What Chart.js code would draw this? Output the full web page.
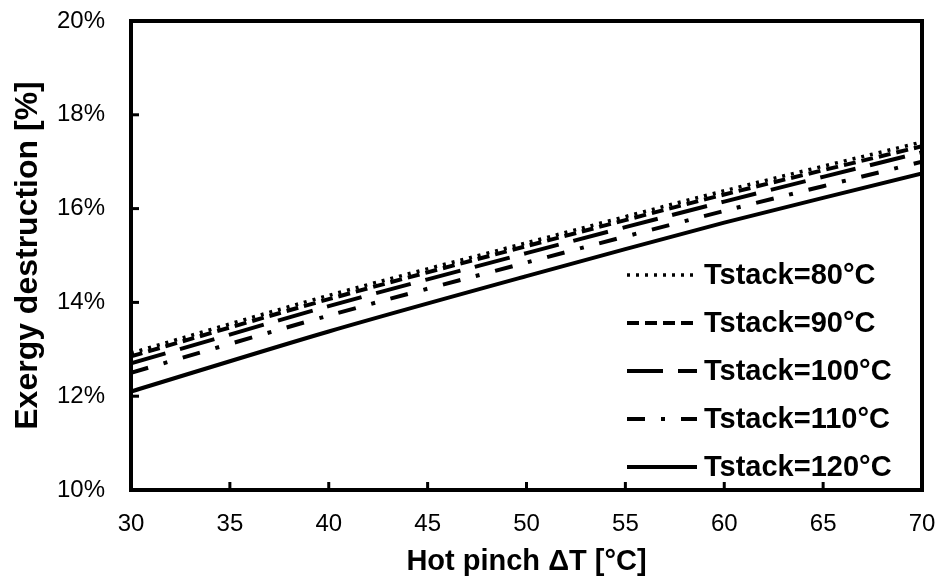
<!DOCTYPE html>
<html>
<head>
<meta charset="utf-8">
<script src="https://cdn.jsdelivr.net/npm/chart.js@4"></script>
<style>
  html, body { margin: 0; padding: 0; background: #fff; }
  #wrap { width: 943px; height: 588px; }
</style>
</head>
<body>
<div id="wrap"><canvas id="exergyChart" width="943" height="588"></canvas></div>
<script>
// hot pinch dT [°C]
const pinch = [30, 40, 50, 60, 70];
// exergy destruction [%] for each stack temperature
const t80 = [12.92, 14.15, 15.27, 16.38, 17.42];
const t90 = [12.85, 14.07, 15.20, 16.30, 17.33];
const t100 = [12.70, 13.92, 15.05, 16.15, 17.20];
const t110 = [12.50, 13.72, 14.85, 15.95, 17.00];
const t120 = [12.10, 13.38, 14.56, 15.70, 16.75];
const seriesNames = ["Tstack=80°C", "Tstack=90°C", "Tstack=100°C", "Tstack=110°C", "Tstack=120°C"];

const fontFam = "'Liberation Sans', Arial, sans-serif";

function toPoints(vals) {
  return vals.map((v, i) => ({ x: pinch[i], y: v }));
}

function makeSet(label, vals, dash, width) {
  return {
    label: label,
    data: toPoints(vals),
    borderColor: "#000",
    backgroundColor: "#000",
    borderWidth: width,
    borderDash: dash,
    borderCapStyle: "butt",
    pointRadius: 0,
    tension: 0.3,
    fill: false
  };
}

// frame + inward tick marks
const framePlugin = {
  id: "frame",
  afterDatasetsDraw(chart) {
    const ctx = chart.ctx;
    const a = chart.chartArea;
    ctx.save();
    ctx.strokeStyle = "#000";
    ctx.lineWidth = 3;
    chart.scales.x.ticks.forEach(t => {
      const x = chart.scales.x.getPixelForValue(t.value);
      ctx.beginPath();
      ctx.moveTo(x, a.bottom);
      ctx.lineTo(x, a.bottom - 8);
      ctx.stroke();
    });
    chart.scales.y.ticks.forEach(t => {
      const y = chart.scales.y.getPixelForValue(t.value);
      ctx.beginPath();
      ctx.moveTo(a.left, y);
      ctx.lineTo(a.left + 8, y);
      ctx.stroke();
    });
    ctx.lineWidth = 4;
    ctx.strokeRect(a.left, a.top, a.right - a.left, a.bottom - a.top);
    ctx.restore();
  }
};

// legend inside the plot, bottom right
const legendPlugin = {
  id: "insideLegend",
  afterDraw(chart) {
    const ctx = chart.ctx;
    const a = chart.chartArea;
    ctx.save();
    ctx.font = "bold 29px " + fontFam;
    ctx.fillStyle = "#000";
    ctx.textBaseline = "middle";
    chart.data.datasets.forEach((ds, i) => {
      const y = a.bottom - 215 + i * 48;
      const x0 = a.left + 496;
      ctx.strokeStyle = "#000";
      ctx.lineWidth = ds.borderWidth;
      ctx.lineCap = "butt";
      ctx.setLineDash(ds.borderDash);
      ctx.beginPath();
      ctx.moveTo(x0, y);
      ctx.lineTo(x0 + 70, y);
      ctx.stroke();
      ctx.setLineDash([]);
      ctx.fillText(ds.label, x0 + 77, y + 1);
    });
    ctx.restore();
  }
};

const ctx = document.getElementById("exergyChart").getContext("2d");
const chart = new Chart(ctx, {
  type: "line",
  data: {
    datasets: [
      makeSet(seriesNames[0], t80, [3, 6], 3.5),
      makeSet(seriesNames[1], t90, [12, 6], 4),
      makeSet(seriesNames[2], t100, [36, 15], 4),
      makeSet(seriesNames[3], t110, [18, 16, 4, 16], 4),
      makeSet(seriesNames[4], t120, [], 4)
    ]
  },
  options: {
    responsive: false,
    animation: false,
    layout: { padding: { top: 21, right: 21, left: 0, bottom: 0 } },
    plugins: {
      legend: { display: false },
      tooltip: { enabled: false }
    },
    scales: {
      x: {
        type: "linear",
        min: 30,
        max: 70,
        afterFit: s => { s.height = 98; s.paddingLeft = 0; s.paddingRight = 0; },
        grid: { display: false, drawTicks: false },
        border: { display: false },
        ticks: {
          stepSize: 5,
          padding: 20,
          color: "#000",
          font: { family: fontFam, size: 24 }
        },
        title: {
          display: true,
          text: "Hot pinch \u0394T [°C]",
          color: "#000",
          font: { family: fontFam, size: 29, weight: "bold" },
          padding: { top: 0, bottom: 9 }
        }
      },
      y: {
        min: 10,
        max: 20,
        afterFit: s => { s.width = 131; s.paddingTop = 0; s.paddingBottom = 0; },
        grid: { display: false, drawTicks: false },
        border: { display: false },
        ticks: {
          stepSize: 2,
          padding: 26,
          color: "#000",
          font: { family: fontFam, size: 24 },
          callback: v => v + "%"
        },
        title: {
          display: true,
          text: "Exergy destruction [%]",
          color: "#000",
          font: { family: fontFam, size: 32, weight: "bold" },
          padding: { top: 9, bottom: 0 }
        }
      }
    }
  },
  plugins: [framePlugin, legendPlugin]
});
</script>
</body>
</html>
